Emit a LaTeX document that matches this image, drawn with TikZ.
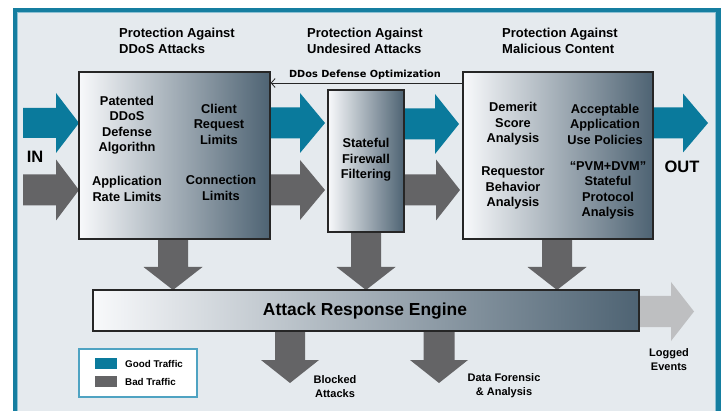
\documentclass[tikz,border=0pt]{standalone}
\usepackage{fontspec}
\setmainfont{Liberation Sans}
\newfontfamily\widefont{DejaVu Sans}
\usetikzlibrary{calc,arrows.meta}

\definecolor{frameteal}{HTML}{157EA0}
\definecolor{framelite}{HTML}{8CC0D3}
\definecolor{paper}{HTML}{E5EAEE}
\definecolor{goodblue}{HTML}{0A7A9C}
\definecolor{badgray}{HTML}{646466}
\definecolor{loggray}{HTML}{BEBFC1}
\definecolor{boxdark}{HTML}{4E6373}
\definecolor{boxlight}{HTML}{F8F9FB}
\definecolor{inkline}{HTML}{262626}
\definecolor{legendedge}{HTML}{4FA3C2}

% horizontal block arrow: colour, tail, tip, shaft half width, head half width, head length
\newcommand\fatright[6]{%
  \fill[#1] let \p1=(#2), \p2=(#3) in
    (\x1,{\y1+#4}) -- ({\x2-#6},{\y1+#4}) -- ({\x2-#6},{\y1+#5}) -- (\x2,\y1)
    -- ({\x2-#6},{\y1-#5}) -- ({\x2-#6},{\y1-#4}) -- (\x1,{\y1-#4}) -- cycle;}
% vertical (downward) block arrow: colour, tail, tip, shaft half width, head half width, head length
\newcommand\fatdown[6]{%
  \fill[#1] let \p1=(#2), \p2=(#3) in
    ({\x1-#4},\y1) -- ({\x1-#4},{\y2+#6}) -- ({\x1-#5},{\y2+#6}) -- (\x1,\y2)
    -- ({\x1+#5},{\y2+#6}) -- ({\x1+#4},{\y2+#6}) -- ({\x1+#4},\y1) -- cycle;}

\tikzset{
  stagebox/.style={draw=inkline, line width=1.3pt, left color=boxlight, right color=boxdark,
    inner sep=0pt, anchor=center},
  boxtext/.style={font=\bfseries\fontsize{12.8}{15.5}\selectfont, align=center, text=black,
    inner sep=0pt},
  headtext/.style={font=\bfseries\fontsize{13}{16}\selectfont, align=left, anchor=west,
    inner sep=0pt},
  outtext/.style={font=\bfseries\fontsize{11}{13.5}\selectfont, align=center, inner sep=0pt},
  legendtext/.style={font=\bfseries\fontsize{9.8}{12}\selectfont, anchor=west, inner sep=0pt},
}

\begin{document}
\begin{tikzpicture}[x=1pt, y=-1pt]
\useasboundingbox (0,0) rectangle (722,411);
\clip (0,0) rectangle (722,411);
\fill[white] (0,0) rectangle (722,411);

% panel with teal frame running off the lower edge
\fill[frameteal] (13,8) rectangle (721,440);
\fill[framelite] (16.8,11.8) rectangle (716.2,440);
\fill[paper] (18,13) rectangle (714.5,440);

% section headings
\node[headtext] (h1) at (119,41) {Protection Against\\DDoS Attacks};
\node[headtext] (h2) at (307,41) {Protection Against\\Undesired Attacks};
\node[headtext] (h3) at (502,41) {Protection Against\\Malicious Content};

% anchor points for the traffic arrows
\coordinate (goodin) at (23,123);
\coordinate (badin) at (23,190);

% stage boxes (geometry only; drawn after the arrows)
\path (174.5,155.5) coordinate (c1) (366,161) coordinate (c2) (558,155.5) coordinate (c3)
      (366,310.5) coordinate (c4);

% traffic arrows
\fatright{goodblue}{goodin}{79,123}{15pt}{30pt}{23pt}
\fatright{badgray}{badin}{79,190}{15.5pt}{30.5pt}{23pt}
\fatright{goodblue}{270,123}{325,123}{15.5pt}{30pt}{25pt}
\fatright{badgray}{270,190}{325,190}{15.5pt}{30pt}{25pt}
\fatright{goodblue}{404,124}{459,124}{15.5pt}{30pt}{24pt}
\fatright{badgray}{404,190}{460,190}{15.5pt}{30.5pt}{24pt}
\fatright{goodblue}{653,123}{708,123}{15.5pt}{29.5pt}{25pt}

% drops into the response engine
\fatdown{badgray}{173,239}{173,290}{15pt}{29.5pt}{23pt}
\fatdown{badgray}{366,232}{366,290}{15pt}{29.5pt}{23pt}
\fatdown{badgray}{557,239}{557,290}{15pt}{29.5pt}{23pt}
% outputs of the response engine
\fatdown{badgray}{290,331}{290,383}{15pt}{29pt}{23pt}
\fatdown{badgray}{439,331}{439,383}{15.5pt}{29pt}{23pt}
\fatright{loggray}{639,311.5}{694,311.5}{15.5pt}{29.5pt}{23pt}

% stage boxes
\node[stagebox, minimum width=191pt, minimum height=167pt] (ddos) at (c1) {};
\node[stagebox, minimum width=76pt, minimum height=142pt] (fw) at (c2) {};
\node[stagebox, minimum width=190pt, minimum height=167pt] (mal) at (c3) {};
\node[stagebox, minimum width=546pt, minimum height=41pt] (are) at (c4) {};

% feedback line
\coordinate (fbstart) at (mal.west |- 0,83);
\draw[inkline, line width=0.8pt, -{Straight Barb[length=4pt,width=9pt]}]
  (fbstart) -- (ddos.east |- fbstart);
\node[font=\widefont\bfseries\fontsize{9.8}{12}\selectfont, inner sep=0pt] (fbtext) at (365,74.5)
  {DDos Defense Optimization};

% box contents
\node[boxtext] (t11) at (127,125) {Patented\\DDoS\\Defense\\Algorithn};
\node[boxtext] (t12) at (219,124) {Client\\Request\\Limits};
\node[boxtext] (t13) at (127,189) {Application\\Rate Limits};
\node[boxtext] (t14) at (221,188) {Connection\\Limits};
\node[boxtext] (t21) at (366,160) {Stateful\\Firewall\\Filtering};
\node[boxtext] (t31) at (513,124) {Demerit\\Score\\Analysis};
\node[boxtext] (t32) at (605,124) {Acceptable\\Application\\Use Policies};
\node[boxtext] (t33) at (513,188) {Requestor\\Behavior\\Analysis};
\node[boxtext] (t34) at (608,190.5) {“PVM+DVM”\\Stateful\\Protocol\\Analysis};
\node[font=\bfseries\fontsize{17.4}{20}\selectfont, inner sep=0pt] (aretext) at (365,311)
  {Attack Response Engine};

% in / out labels
\node[font=\bfseries\fontsize{16.5}{18}\selectfont, inner sep=0pt] (inlbl) at (35,156.5) {IN};
\node[font=\bfseries\fontsize{16.5}{18}\selectfont, inner sep=0pt] (outlbl) at (682,167) {OUT};

% output labels
\node[outtext] (blk) at (335,386.5) {Blocked\\Attacks};
\node[outtext] (dfa) at (504,385.5) {Data Forensic\\\& Analysis};
\node[outtext] (log) at (669,359.5) {Logged\\Events};

% legend
\node[draw=legendedge, line width=1.2pt, fill=white, minimum width=118pt, minimum height=48pt,
      inner sep=0pt] (legend) at (138,373) {};
\fill[goodblue] (95,358) rectangle (117,369);
\fill[badgray] (95,376) rectangle (117,387);
\node[legendtext] (lg1) at (125,363.5) {Good Traffic};
\node[legendtext] (lg2) at (125,381.5) {Bad Traffic};
\end{tikzpicture}
\end{document}
